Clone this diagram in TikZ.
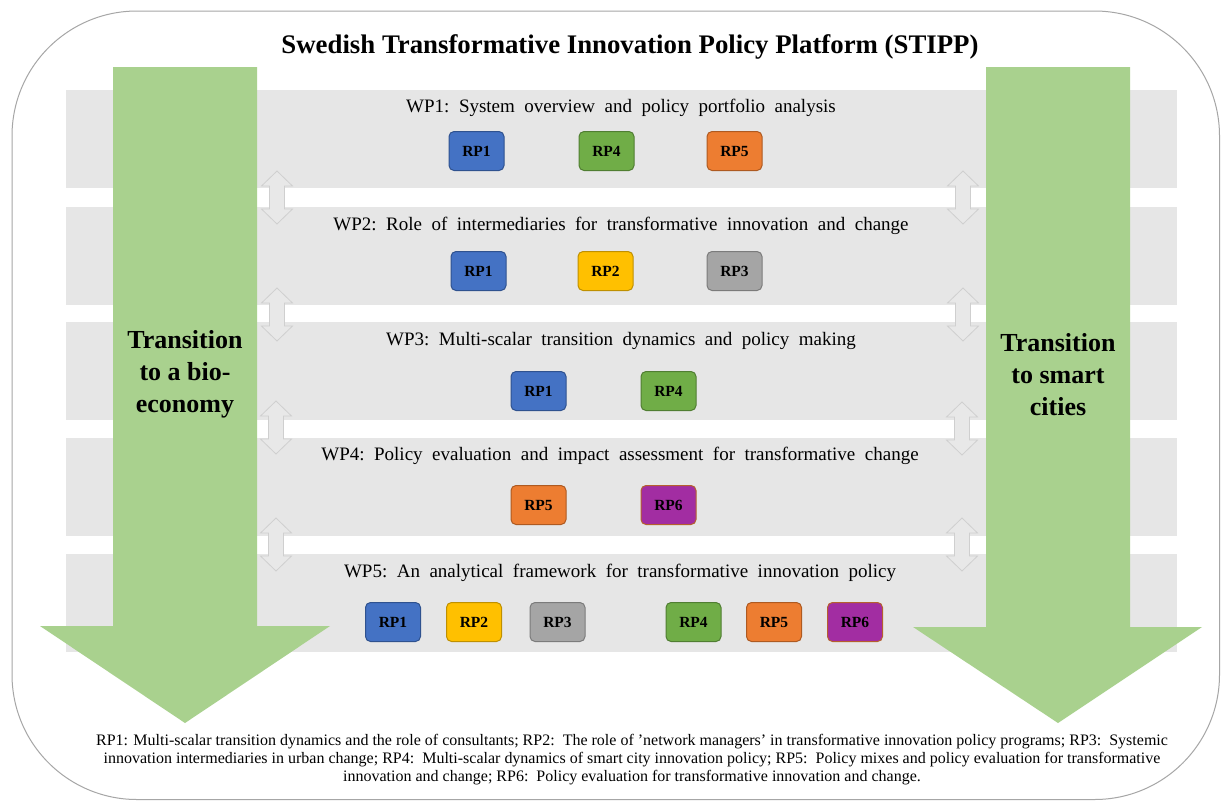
\documentclass[tikz,border=0pt]{standalone}
\usepackage{fontspec}
\setmainfont{Liberation Serif}
\definecolor{bandgray}{HTML}{E6E6E6}
\definecolor{greenarr}{HTML}{A9D18E}
\definecolor{frame}{HTML}{A6A6A6}
\definecolor{dafill}{HTML}{E8E8E8}
\definecolor{dadraw}{HTML}{CFCFCF}
\definecolor{rpAf}{HTML}{4472C4}\definecolor{rpAd}{HTML}{2F528F}
\definecolor{rpBf}{HTML}{FFC000}\definecolor{rpBd}{HTML}{BF9000}
\definecolor{rpCf}{HTML}{A5A5A5}\definecolor{rpCd}{HTML}{7B7B7B}
\definecolor{rpDf}{HTML}{70AD47}\definecolor{rpDd}{HTML}{507E32}
\definecolor{rpEf}{HTML}{ED7D31}\definecolor{rpEd}{HTML}{AE5A21}
\definecolor{rpFf}{HTML}{A22DA2}\definecolor{rpFd}{HTML}{B5602E}
\newcommand{\dblarrow}[3]{%
  \draw[dadraw, fill=dafill, line width=0.8pt] (#1,#2-26.5) -- (#1+15.5,#2-11.5) -- (#1+7.5,#2-11.5) -- (#1+7.5,#2+11.5) -- (#1+15.5,#2+11.5) -- (#1,#2+26.5) -- (#1-15.5,#2+11.5) -- (#1-7.5,#2+11.5) -- (#1-7.5,#2-11.5) -- (#1-15.5,#2-11.5) -- cycle;
  \coordinate (#3) at (#1,#2);}
\tikzset{
  band/.style={fill=bandgray, draw=none, minimum width=1111pt, minimum height=98pt, inner sep=0pt},
  rpbox/.style={rounded corners=5pt, minimum width=55pt, minimum height=39pt, inner sep=0pt, line width=1pt, font=\bfseries\fontsize{15.5}{15.5}\selectfont},
  rp1/.style={rpbox, fill=rpAf, draw=rpAd},
  rp2/.style={rpbox, fill=rpBf, draw=rpBd},
  rp3/.style={rpbox, fill=rpCf, draw=rpCd},
  rp4/.style={rpbox, fill=rpDf, draw=rpDd},
  rp5/.style={rpbox, fill=rpEf, draw=rpEd},
  rp6/.style={rpbox, fill=rpFf, draw=rpFd},
  wptext/.style={font=\fontsize{19}{22}\selectfont, inner sep=0pt},
  translabel/.style={font=\bfseries\fontsize{26}{32}\selectfont, align=center, inner sep=0pt},
  greenarrow/.style={fill=greenarr, draw=none}
}
\begin{document}
\begin{tikzpicture}[x=1pt, y=-1pt]
\useasboundingbox (0,0) rectangle (1221,801);
\fill[white] (0,0) rectangle (1221,801);
\draw[frame, line width=1pt, rounded corners=125pt] (12,11) rectangle (1219.5,799.5);
% bands
\node[band] (band1) at (621.5,139) {};
\node[band] (band2) at (621.5,256) {};
\node[band] (band3) at (621.5,370.5) {};
\node[band] (band4) at (621.5,486.5) {};
\node[band] (band5) at (621.5,603) {};
% green arrows
\fill[greenarrow] (113,67) -- (257,67) -- (257,626) -- (330,626) -- (185,723) -- (40,626) -- (113,626) -- cycle;
\fill[greenarrow] (986,67) -- (1130,67) -- (1130,627) -- (1202,627) -- (1058,723) -- (913,627) -- (986,627) -- cycle;
% double arrows
\dblarrow{277}{197.5}{la1}
\dblarrow{277}{314.5}{la2}
\dblarrow{276}{427.5}{la3}
\dblarrow{276}{544.5}{la4}
\dblarrow{963}{197.5}{ra1}
\dblarrow{963}{314.5}{ra2}
\dblarrow{962}{428.5}{ra3}
\dblarrow{962}{544.5}{ra4}
% title
\node[font=\bfseries\fontsize{26.8}{30}\selectfont, inner sep=0pt] (title) at (630,47) {Swedish Transformative Innovation Policy Platform (STIPP)};
% side labels
\node[translabel] (bio) at (185,374.5) {Transition\\to a bio-\\economy};
\node[translabel] (smart) at (1058,374.5) {Transition\\to smart\\cities};
% WP titles
\node[wptext] (wp1) at (621,108) {WP1:\ \ System\ \ overview\ \ and\ \ policy\ \ portfolio\ \ analysis};
\node[wptext] (wp2) at (621,226) {WP2:\ \ Role\ \ of\ \ intermediaries\ \ for\ \ transformative\ \ innovation\ \ and\ \ change};
\node[wptext] (wp3) at (621,341) {WP3:\ \ Multi-scalar\ \ transition\ \ dynamics\ \ and\ \ policy\ \ making};
\node[wptext] (wp4) at (620,456) {WP4:\ \ Policy\ \ evaluation\ \ and\ \ impact\ \ assessment\ \ for\ \ transformative\ \ change};
\node[wptext] (wp5) at (620,573) {WP5:\ \ An\ \ analytical\ \ framework\ \ for\ \ transformative\ \ innovation\ \ policy};
% RP boxes
\node[rp1] (w1r1) at (476.5,151) {RP1};
\node[rp4] (w1r4) at (606.5,151) {RP4};
\node[rp5] (w1r5) at (734.5,151) {RP5};
\node[rp1] (w2r1) at (478.5,271) {RP1};
\node[rp2] (w2r2) at (605.5,271) {RP2};
\node[rp3] (w2r3) at (734.5,271) {RP3};
\node[rp1] (w3r1) at (538.5,391) {RP1};
\node[rp4] (w3r4) at (668.5,391) {RP4};
\node[rp5] (w4r5) at (538.5,505) {RP5};
\node[rp6] (w4r6) at (668.5,505) {RP6};
\node[rp1] (w5r1) at (393,622) {RP1};
\node[rp2] (w5r2) at (474,622) {RP2};
\node[rp3] (w5r3) at (557.5,622) {RP3};
\node[rp4] (w5r4) at (693.5,622) {RP4};
\node[rp5] (w5r5) at (774,622) {RP5};
\node[rp6] (w5r6) at (855,622) {RP6};
% footnote
\node[font=\fontsize{16}{18}\selectfont, align=center, inner sep=0pt] (note) at (632,760) {RP1: Multi-scalar transition dynamics and the role of consultants; RP2:\ \ The role of ’network managers’ in transformative innovation policy programs; RP3:\ \ Systemic\\innovation intermediaries in urban change; RP4:\ \ Multi-scalar dynamics of smart city innovation policy; RP5:\ \ Policy mixes and policy evaluation for transformative\\innovation and change; RP6:\ \ Policy evaluation for transformative innovation and change.};
\end{tikzpicture}
\end{document}
